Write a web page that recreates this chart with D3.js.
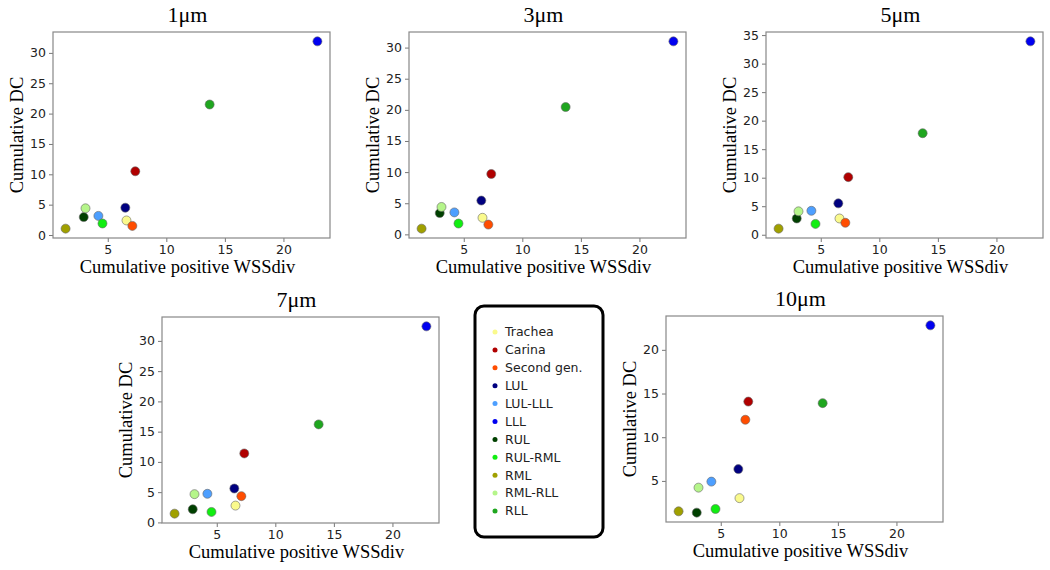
<!DOCTYPE html>
<html>
<head>
<meta charset="utf-8">
<script src="https://d3js.org/d3.v7.min.js"></script>
<style>
  body { margin: 0; background: #fff; }
  svg { display: block; }
</style>
</head>
<body>
<div id="chart"></div>
<script>
// regions (legend order) and their colours
const regions = ["Trachea", "Carina", "Second gen.", "LUL", "LUL-LLL", "LLL", "RUL", "RUL-RML", "RML", "RML-RLL", "RLL"]
const colors = ["#fafa8c", "#b00000", "#ff4d00", "#000080", "#4d9fff", "#0000f0", "#004000", "#11ee11", "#a0a000", "#b5f58a", "#1fa61f"]

// cumulative positive WSSdiv (same for every particle size)
const wssdiv = [6.6, 7.35, 7.1, 6.5, 4.2, 22.9, 2.95, 4.55, 1.4, 3.1, 13.7]

// cumulative DC per particle size
const sizes = ["1μm", "3μm", "5μm", "7μm", "10μm"]
const dc1 = [2.4, 10.5, 1.5, 4.5, 3.15, 31.9, 2.95, 1.9, 1.05, 4.4, 21.5]
const dc3 = [2.66, 9.7, 1.57, 5.43, 3.53, 31.0, 3.42, 1.74, 0.92, 4.4, 20.45]
const dc5 = [2.85, 10.1, 2.1, 5.5, 4.2, 33.9, 2.85, 1.9, 1.07, 4.1, 17.8]
const dc7 = [2.78, 11.4, 4.34, 5.6, 4.73, 32.4, 2.17, 1.73, 1.45, 4.67, 16.2]
const dc10 = [3.03, 14.08, 12.0, 6.35, 4.92, 22.8, 1.37, 1.79, 1.52, 4.23, 13.9]
const dcs = [dc1, dc3, dc5, dc7, dc10]

const W = 1050, H = 570
const pw = 277, ph = 206
// top-left corner of each plot box
const boxes = [[53, 32], [409, 32], [766, 32], [162, 317], [666, 316]]

const serif = "'Liberation Serif', 'Times New Roman', serif"
const sans = "'DejaVu Sans', sans-serif"

const svg = d3.select("#chart").append("svg")
    .attr("width", W)
    .attr("height", H)

// matplotlib style 5% margins
function padded(vals) {
    const lo = d3.min(vals), hi = d3.max(vals)
    const p = (hi - lo) * 0.05
    return [lo - p, hi + p]
}

sizes.forEach((title, i) => {
    const [bx, by] = boxes[i]
    const ys = dcs[i]
    const data = regions.map((r, k) => ({ name: r, x: wssdiv[k], y: ys[k], color: colors[k] }))

    const x = d3.scaleLinear().domain(padded(wssdiv)).range([0, pw])
    const y = d3.scaleLinear().domain(padded(ys)).range([ph, 0])

    const g = svg.append("g").attr("transform", `translate(${bx},${by})`)

    const xAxis = g.append("g")
        .attr("transform", `translate(0,${ph})`)
        .call(d3.axisBottom(x).tickValues([5, 10, 15, 20]).tickSize(4).tickSizeOuter(0).tickPadding(3))
    const yAxis = g.append("g")
        .call(d3.axisLeft(y).ticks(7).tickSize(4).tickSizeOuter(0).tickPadding(3))

    ;[xAxis, yAxis].forEach(a => {
        a.select(".domain").remove()
        a.selectAll(".tick line").attr("stroke", "#777")
        a.selectAll(".tick text")
            .attr("fill", "#222")
            .style("font-family", sans)
            .style("font-size", "12.5px")
    })

    // axes box
    g.append("rect")
        .attr("width", pw)
        .attr("height", ph)
        .attr("fill", "none")
        .attr("stroke", "#888")
        .attr("stroke-width", 1.2)

    g.selectAll("circle.pt")
        .data(data)
        .enter().append("circle")
        .attr("class", "pt")
        .attr("cx", d => x(d.x))
        .attr("cy", d => y(d.y))
        .attr("r", 4.5)
        .attr("fill", d => d.color)
        .attr("stroke", "#666")
        .attr("stroke-width", 0.6)

    g.append("text")
        .attr("x", pw / 2 - 4)
        .attr("y", -10)
        .attr("text-anchor", "middle")
        .style("font-family", serif)
        .style("font-size", "22px")
        .text(title)

    g.append("text")
        .attr("x", pw / 2 - 4)
        .attr("y", ph + 35)
        .attr("text-anchor", "middle")
        .style("font-family", serif)
        .style("font-size", "18.5px")
        .text("Cumulative positive WSSdiv")

    g.append("text")
        .attr("transform", `translate(-30,${ph / 2}) rotate(-90)`)
        .attr("text-anchor", "middle")
        .style("font-family", serif)
        .style("font-size", "18.5px")
        .text("Cumulative DC")
})

// legend
const lg = svg.append("g").attr("transform", "translate(475,306)")
lg.append("rect")
    .attr("width", 128)
    .attr("height", 231)
    .attr("rx", 9)
    .attr("fill", "#fff")
    .attr("stroke", "#000")
    .attr("stroke-width", 3)

const rowY = d3.scaleLinear().domain([0, regions.length - 1]).range([26, 205])
const items = lg.selectAll("g.item")
    .data(regions)
    .enter().append("g")
    .attr("class", "item")
    .attr("transform", (d, k) => `translate(0,${rowY(k)})`)
items.append("circle")
    .attr("cx", 20)
    .attr("r", 2.5)
    .attr("fill", (d, k) => colors[k])
items.append("text")
    .attr("x", 30)
    .attr("dy", "0.35em")
    .style("font-family", sans)
    .style("font-size", "12.5px")
    .attr("fill", "#222")
    .text(d => d)
</script>
</body>
</html>
